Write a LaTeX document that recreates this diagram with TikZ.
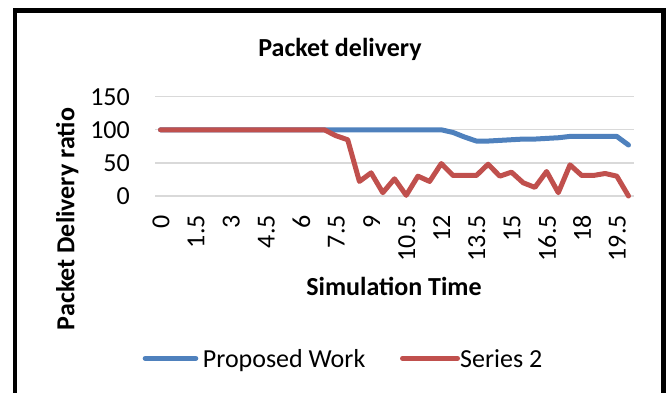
\documentclass[tikz,border=0pt]{standalone}
\usepackage{fontspec}
\setmainfont{Carlito}
\usepackage{xcolor}
\definecolor{seriesblue}{RGB}{79,129,189}
\definecolor{seriesred}{RGB}{192,80,77}
\definecolor{gridgray}{RGB}{217,217,217}

\begin{document}
\begin{tikzpicture}[x=1pt, y=-1pt,
    every node/.style={inner sep=0pt, font=\fontsize{26}{30}\selectfont},
    gridline/.style={draw=gridgray, line width=1.4pt},
    seriesline/.style={line width=5pt, line cap=round, line join=round},
    xtick/.style={rotate=90, anchor=east},
    ytick/.style={anchor=east},
    axistitle/.style={font=\fontsize{26}{30}\selectfont\bfseries}]
        \useasboundingbox (0,0) rectangle (669,393);
        \draw[line width=4.3pt] (14.7,393) -- (14.7,10.6) -- (663.5,10.6) -- (663.5,393);

        \node[axistitle, anchor=base] (title) at (340,56.7) {Packet delivery};

        \foreach \v in {0,50,100,150} {
            \draw[gridline] (155,{196-0.662*\v}) -- (634,{196-0.662*\v});
            \node[ytick] (ytick\v) at (130,{196-0.662*\v}) {\v};
        }
        \foreach \lab [count=\k from 0] in {0,1.5,3,4.5,6,7.5,9,10.5,12,13.5,15,16.5,18,19.5}
            \node[xtick] (xtick\k) at ({161+35.1*\k},215) {\lab};

        \node[axistitle, anchor=base] (xtitle) at (394,295) {Simulation Time};
        \node[axistitle, rotate=90, anchor=base] (ytitle) at (74.3,219) {Packet Delivery ratio};

        \draw[seriesline, seriesblue] (160.5,{196-0.662*100})
            \foreach \v [count=\i from 1] in {100,100,100,100,100,100,100,100,100,100,100,100,100,100,100,100,100,100,100,100,100,100,100,100,96,89,83,83,84,85,86,86,87,88,90,90,90,90,90,77}
            { -- ({160.5+11.7*\i},{196-0.662*\v}) };
        \draw[seriesline, seriesred] (160.5,{196-0.662*100})
            \foreach \v [count=\i from 1] in {100,100,100,100,100,100,100,100,100,100,100,100,100,100,91,85,22,35,5,26,1,30,22,49,31,31,31,48,30,36,20,13,37,5,47,31,31,34,30,0}
            { -- ({160.5+11.7*\i},{196-0.662*\v}) };

        \coordinate (blueA) at (145.2,358.3);
        \coordinate (blueB) at (195.8,358.3);
        \coordinate (redA) at (402.5,358.3);
        \coordinate (redB) at (457.5,358.3);
        \draw[seriesline, seriesblue] (blueA) -- (blueB);
        \draw[seriesline, seriesred] (redA) -- (redB);
        \node[anchor=base west] (legblue) at (202.7,367.3) {Proposed Work};
        \node[anchor=base west] (legred) at (460,367.3) {Series 2};
    \end{tikzpicture}
\end{document}
